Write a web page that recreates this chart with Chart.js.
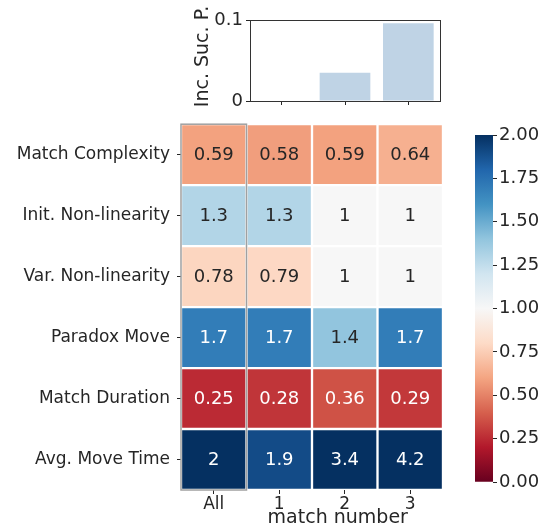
<!DOCTYPE html>
<html>
<head>
<meta charset="utf-8">
<script src="https://cdn.jsdelivr.net/npm/chart.js@4.4.0/dist/chart.umd.min.js"></script>
<style>
body { margin: 0; background: #fff; width: 544px; height: 530px; overflow: hidden; position: relative; }
canvas { position: absolute; }
</style>
</head>
<body>
<canvas id="topChart" width="280" height="115" style="left:170px;top:0px"></canvas>
<canvas id="heatChart" width="460" height="423" style="left:0px;top:107px"></canvas>
<canvas id="cbarChart" width="84" height="400" style="left:460px;top:120px"></canvas>
<script>
// heatmap data
const columns = ['All', '1', '2', '3'];
const rowNames = ['Match Complexity', 'Init. Non-linearity', 'Var. Non-linearity', 'Paradox Move', 'Match Duration', 'Avg. Move Time'];
const matchComplexity = [0.59, 0.58, 0.59, 0.64];
const initNonLinearity = [1.3, 1.3, 1, 1];
const varNonLinearity = [0.78, 0.79, 1, 1];
const paradoxMove = [1.7, 1.7, 1.4, 1.7];
const matchDuration = [0.25, 0.28, 0.36, 0.29];
const avgMoveTime = [2, 1.9, 3.4, 4.2];
const rows = [matchComplexity, initNonLinearity, varNonLinearity, paradoxMove, matchDuration, avgMoveTime];

// top bar data
const matchNumbers = ['1', '2', '3'];
const incSucP = [0, 0.035, 0.096];
const topTicks = [0, 0.1];
const topTickLabels = ['0', '0.1'];

// colour scale
const vmin = 0;
const vmax = 2;
const cbarStep = 0.25;

const TXT = '#262626';
Chart.defaults.font.family = 'DejaVu Sans';
Chart.defaults.color = TXT;

const rdbu = ['#67001f', '#b2182b', '#d6604d', '#f4a582', '#fddbc7', '#f7f7f7',
              '#d1e5f0', '#92c5de', '#4393c3', '#2166ac', '#053061'];

function hexToRgb(h) {
    return [1, 3, 5].map(i => parseInt(h.substr(i, 2), 16));
}

function cmap(v) {
    let t = Math.min(Math.max((v - vmin) / (vmax - vmin), 0), 1) * (rdbu.length - 1);
    let i = Math.min(Math.floor(t), rdbu.length - 2);
    let f = t - i;
    let a = hexToRgb(rdbu[i]), b = hexToRgb(rdbu[i + 1]);
    return a.map((c, k) => Math.round(c + (b[k] - c) * f));
}

function rgbStr(c) { return 'rgb(' + c.join(',') + ')'; }

function lum(c) {
    const l = c.map(x => {
        x = x / 255;
        return x <= 0.03928 ? x / 12.92 : Math.pow((x + 0.055) / 1.055, 2.4);
    });
    return 0.2126 * l[0] + 0.7152 * l[1] + 0.0722 * l[2];
}

// write the value into each cell
const cellText = {
    id: 'cellText',
    afterDatasetsDraw(chart) {
        const ctx = chart.ctx;
        ctx.save();
        ctx.font = '18px "DejaVu Sans"';
        ctx.textAlign = 'center';
        ctx.textBaseline = 'middle';
        chart.data.datasets.forEach((ds, i) => {
            chart.getDatasetMeta(i).data.forEach((el, j) => {
                const v = ds.cellValues[j];
                const p = el.getCenterPoint();
                ctx.fillStyle = lum(cmap(v)) > 0.408 ? TXT : '#ffffff';
                ctx.fillText(String(Number(v.toPrecision(2))), p.x, p.y + 1);
            });
        });
        ctx.restore();
    }
};

// grey box round the "All" column + x label
const heatExtras = {
    id: 'heatExtras',
    afterDraw(chart) {
        const ctx = chart.ctx;
        const x = chart.scales.x;
        const a = chart.chartArea;
        const half = (x.getPixelForValue(1) - x.getPixelForValue(0)) / 2;
        ctx.save();
        ctx.strokeStyle = '#a0a0a0';
        ctx.lineWidth = 1.5;
        ctx.strokeRect(a.left, a.top, x.getPixelForValue(0) + half - a.left, a.bottom - a.top);
        ctx.fillStyle = TXT;
        ctx.font = '19px "DejaVu Sans"';
        ctx.textAlign = 'center';
        ctx.textBaseline = 'middle';
        ctx.fillText('match number', x.getPixelForValue(2) - 7, chart.height - 12);
        ctx.restore();
    }
};

new Chart('heatChart', {
    type: 'bar',
    data: {
        labels: columns,
        datasets: rows.map((vals, i) => ({
            data: vals.map(() => [i, i + 1]),
            cellValues: vals,
            backgroundColor: vals.map(v => rgbStr(cmap(v))),
            borderColor: '#ffffff',
            borderWidth: 1.5,
            borderSkipped: false,
            grouped: false,
            barPercentage: 1,
            categoryPercentage: 1
        }))
    },
    options: {
        responsive: false,
        animation: false,
        layout: { padding: { top: 10, right: 17, left: 0, bottom: 0 } },
        plugins: { legend: { display: false }, tooltip: { enabled: false } },
        scales: {
            x: {
                grid: { display: true, offset: false, drawOnChartArea: false, tickLength: 4, color: TXT },
                border: { display: false },
                ticks: { font: { size: 17 }, padding: 0, maxRotation: 0 },
                afterFit: s => { s.height = 40; }
            },
            y: {
                min: 0,
                max: rows.length,
                reverse: true,
                afterBuildTicks: s => { s.ticks = rowNames.map((n, i) => ({ value: i + 0.5 })); },
                ticks: { autoSkip: false, callback: (v, i) => rowNames[i], font: { size: 17 }, padding: 7 },
                grid: { display: true, drawOnChartArea: false, tickLength: 4, color: TXT },
                border: { display: false },
                afterFit: s => { s.width = 181; }
            }
        }
    },
    plugins: [cellText, heatExtras]
});

// colour bar
function cbarGradient(chart) {
    const y = chart.scales.y;
    if (!chart.chartArea || !y) return rdbu[5];
    const y0 = y.getPixelForValue(vmin), y1 = y.getPixelForValue(vmax);
    if (!isFinite(y0) || !isFinite(y1)) return rdbu[5];
    const g = chart.ctx.createLinearGradient(0, y0, 0, y1);
    rdbu.forEach((c, i) => g.addColorStop(i / (rdbu.length - 1), c));
    return g;
}

new Chart('cbarChart', {
    type: 'bar',
    data: {
        labels: [''],
        datasets: [{
            data: [[vmin, vmax]],
            backgroundColor: ctx => cbarGradient(ctx.chart),
            borderWidth: 0,
            barPercentage: 1,
            categoryPercentage: 1
        }]
    },
    options: {
        responsive: false,
        animation: false,
        layout: { padding: { left: 15, top: 15, bottom: 38, right: 0 } },
        plugins: { legend: { display: false }, tooltip: { enabled: false } },
        scales: {
            x: { display: false },
            y: {
                position: 'right',
                min: vmin,
                max: vmax,
                ticks: { stepSize: cbarStep, callback: v => v.toFixed(2), font: { size: 18 }, padding: 2 },
                grid: { display: true, drawOnChartArea: false, tickLength: 4, color: TXT },
                border: { display: false },
                afterFit: s => { s.width = 51; }
            }
        }
    }
});

// top bar chart frame + y label
const topExtras = {
    id: 'topExtras',
    afterDraw(chart) {
        const ctx = chart.ctx;
        const a = chart.chartArea;
        ctx.save();
        ctx.strokeStyle = '#333333';
        ctx.lineWidth = 1;
        ctx.strokeRect(a.left + 0.5, a.top + 0.5, a.right - a.left, a.bottom - a.top);
        ctx.translate(33, (a.top + a.bottom) / 2 - 4);
        ctx.rotate(-Math.PI / 2);
        ctx.fillStyle = TXT;
        ctx.font = '19px "DejaVu Sans"';
        ctx.textAlign = 'center';
        ctx.textBaseline = 'middle';
        ctx.fillText('Inc. Suc. P.', 0, 0);
        ctx.restore();
    }
};

new Chart('topChart', {
    type: 'bar',
    data: {
        labels: matchNumbers,
        datasets: [{
            data: incSucP,
            backgroundColor: '#bfd3e5',
            barPercentage: 1,
            categoryPercentage: 0.8
        }]
    },
    options: {
        responsive: false,
        animation: false,
        layout: { padding: { top: 20, right: 10, left: 0, bottom: 0 } },
        plugins: { legend: { display: false }, tooltip: { enabled: false } },
        scales: {
            x: {
                ticks: { callback: () => '' },
                grid: { display: true, offset: false, drawOnChartArea: false, tickLength: 4, color: TXT },
                border: { display: false },
                afterFit: s => { s.height = 14; }
            },
            y: {
                min: topTicks[0],
                max: topTicks[topTicks.length - 1],
                afterBuildTicks: s => { s.ticks = topTicks.map(v => ({ value: v })); },
                ticks: { callback: (v, i) => topTickLabels[i], font: { size: 18 }, padding: 3 },
                grid: { display: true, drawOnChartArea: false, tickLength: 4, color: TXT },
                border: { display: false },
                afterFit: s => { s.width = 80; }
            }
        }
    },
    plugins: [topExtras]
});
</script>
</body>
</html>
